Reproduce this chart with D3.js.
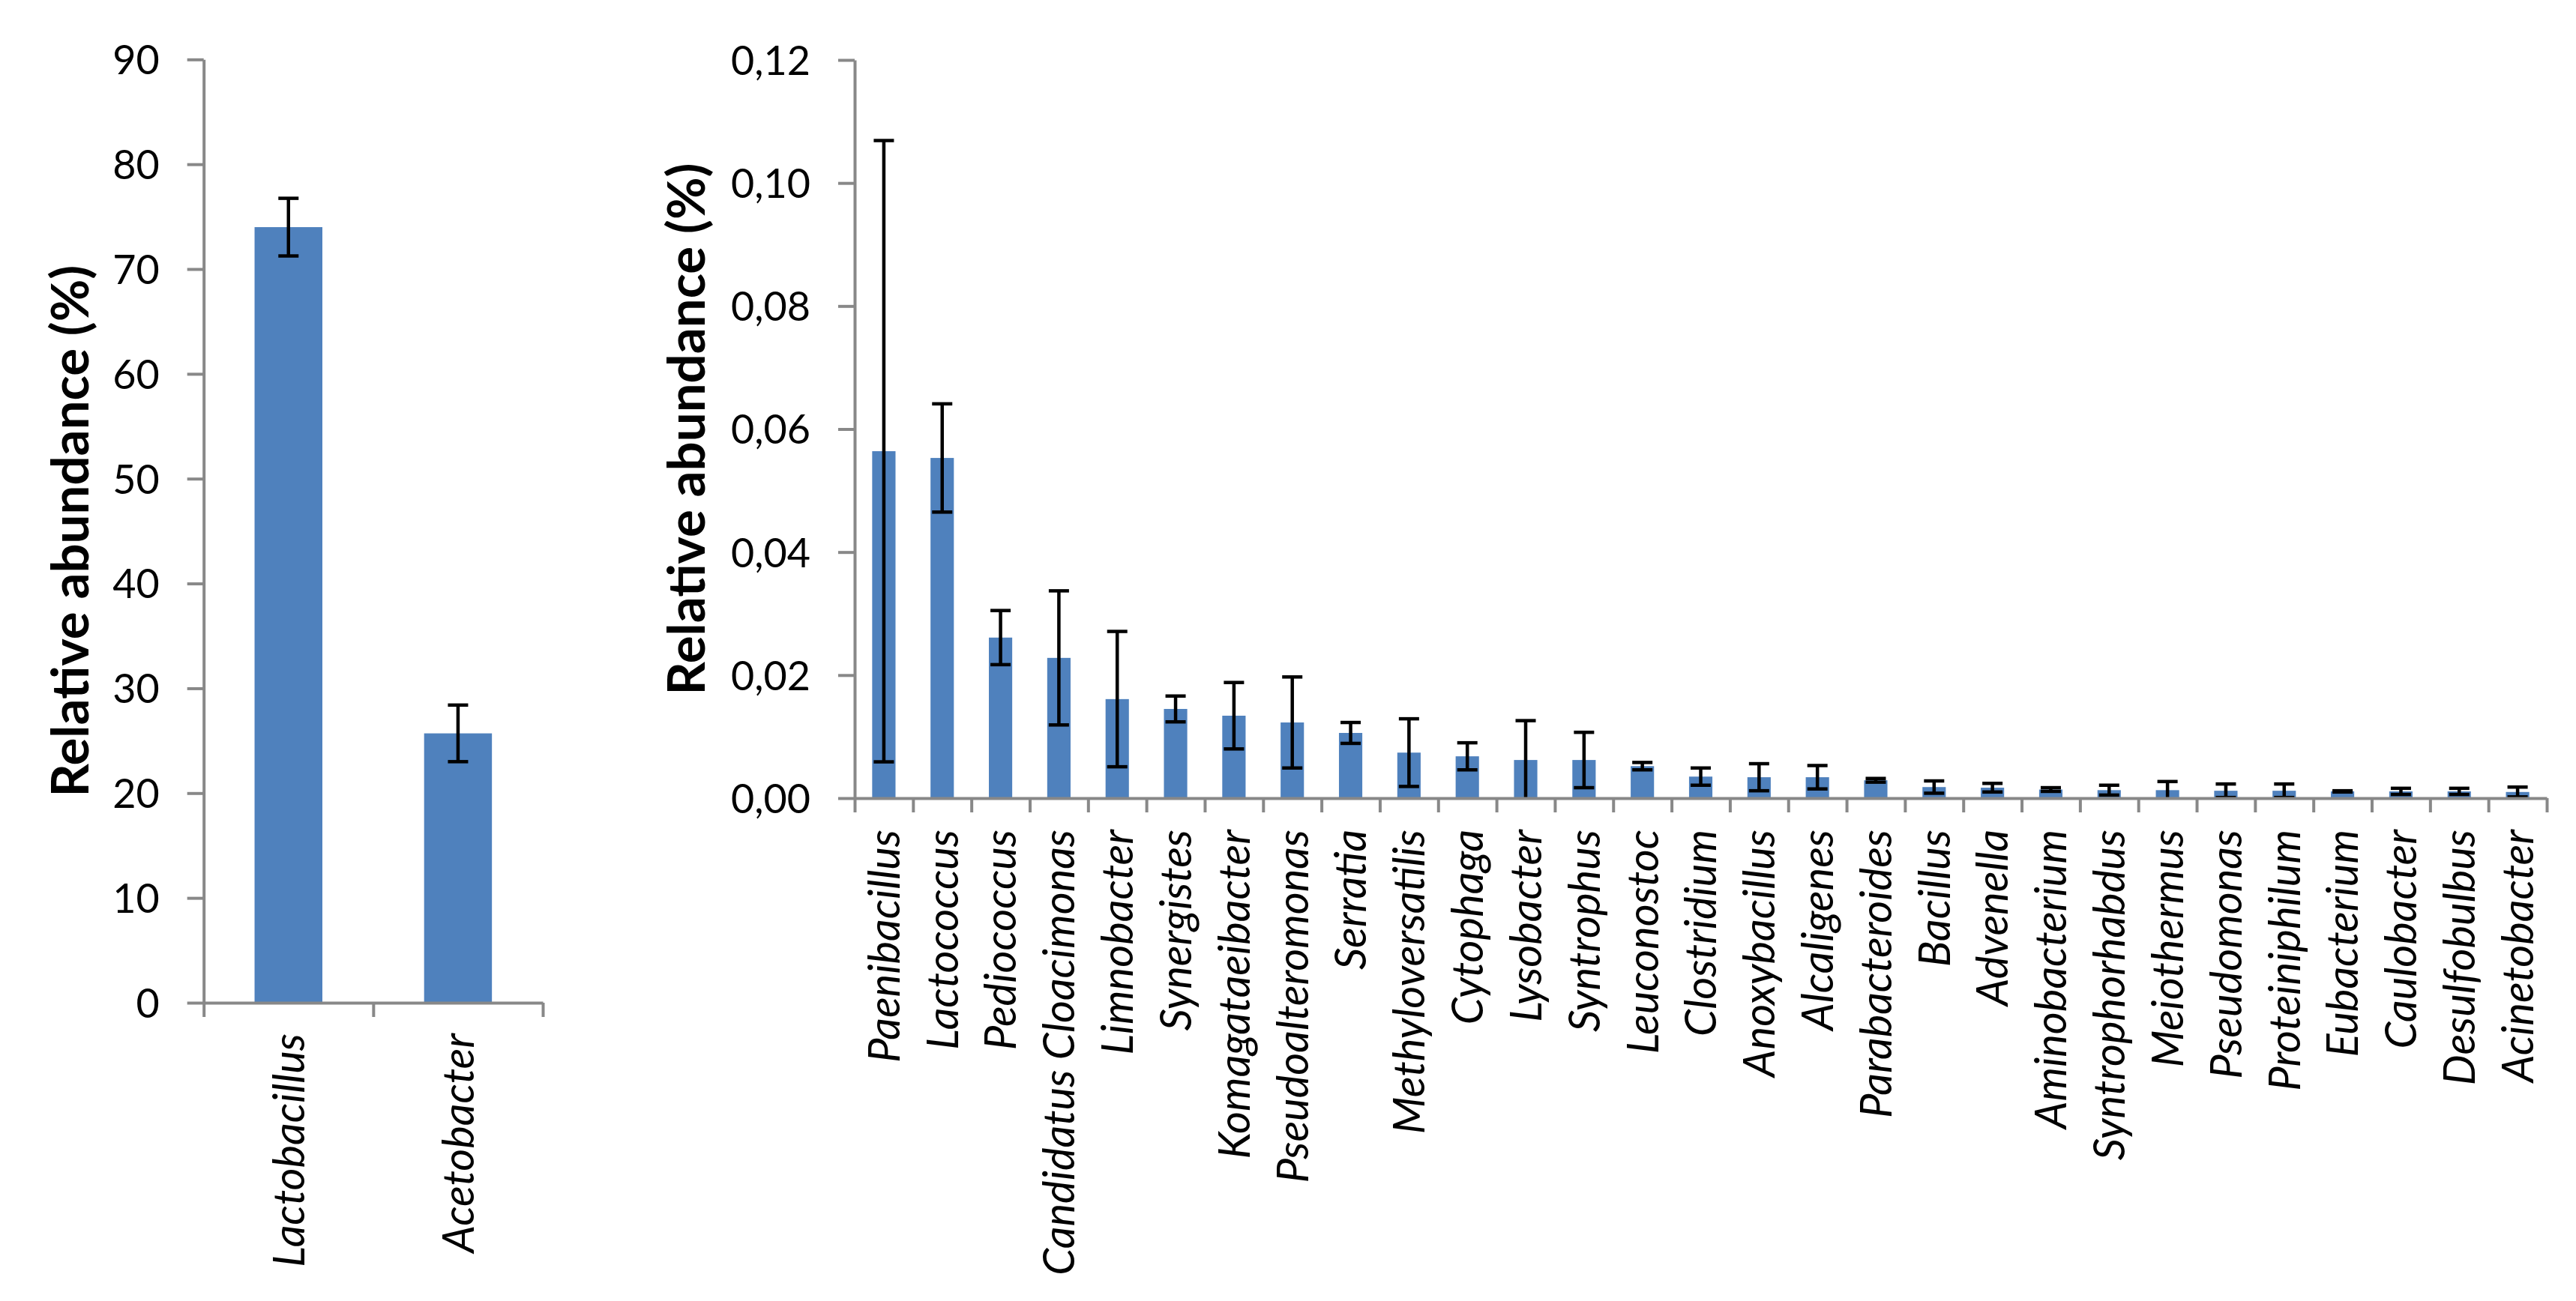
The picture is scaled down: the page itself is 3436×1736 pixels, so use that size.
<!DOCTYPE html>
<html>
<head>
<meta charset="utf-8">
<script src="https://cdn.jsdelivr.net/npm/d3@7"></script>
<style>
  html, body { margin: 0; padding: 0; background: #ffffff; }
  svg { display: block; }
</style>
</head>
<body>
<svg id="chart" width="3436" height="1736"></svg>
<script>
// ---------------- DATA ----------------
const leftCategories = ["Lactobacillus", "Acetobacter"];
const leftValues = [74.0, 25.7];
const leftErrors = [2.75, 2.7];
const leftTicks = [0, 10, 20, 30, 40, 50, 60, 70, 80, 90];

const rightCategories = [
  "Paenibacillus", "Lactococcus", "Pediococcus", "Candidatus Cloacimonas",
  "Limnobacter", "Synergistes", "Komagataeibacter", "Pseudoalteromonas",
  "Serratia", "Methyloversatilis", "Cytophaga", "Lysobacter", "Syntrophus",
  "Leuconostoc", "Clostridium", "Anoxybacillus", "Alcaligenes",
  "Parabacteroides", "Bacillus", "Advenella", "Aminobacterium",
  "Syntrophorhabdus", "Meiothermus", "Pseudomonas", "Proteiniphilum",
  "Eubacterium", "Caulobacter", "Desulfobulbus", "Acinetobacter"
];
const rightValues = [
  0.0564, 0.0553, 0.0261, 0.0228,
  0.0161, 0.0145, 0.0134, 0.0123,
  0.0106, 0.0074, 0.0068, 0.0062, 0.0062,
  0.0052, 0.0035, 0.0034, 0.0034,
  0.0029, 0.0018, 0.0017, 0.0014,
  0.0013, 0.0013, 0.0012, 0.0012,
  0.0011, 0.0011, 0.0011, 0.0010
];
const rightErrors = [
  0.0505, 0.0088, 0.0044, 0.0109,
  0.0110, 0.0021, 0.0054, 0.0074,
  0.0017, 0.0055, 0.0022, 0.0064, 0.0045,
  0.0006, 0.0014, 0.0022, 0.0019,
  0.0003, 0.0010, 0.0007, 0.0003,
  0.0008, 0.0014, 0.0011, 0.0011,
  0.0001, 0.0005, 0.0005, 0.0008
];
const rightTicks = [0, 0.02, 0.04, 0.06, 0.08, 0.10, 0.12];

const yTitle = "Relative abundance (%)";

// ---------------- STYLE ----------------
const FONT = "Lato, 'Open Sans', 'DejaVu Sans', sans-serif";
const BAR = "#4F81BD";
const AXIS = "#888888";

const svg = d3.select("#chart");
svg.append("rect").attr("width", 3436).attr("height", 1736).attr("fill", "#fff");

function fitSize(text, weight, style, target) {
  const t = svg.append("text")
    .attr("font-family", FONT).attr("font-size", 100)
    .attr("font-weight", weight).attr("font-style", style)
    .text(text);
  const w = t.node().getComputedTextLength();
  t.remove();
  return 100 * target / w;
}
const labelSize = fitSize("Paenibacillus", "normal", "italic", 311);
const tickSize = fitSize("0,10", "normal", "normal", 106);
const titleSize = fitSize(yTitle, "bold", "normal", 710);

const commaLocale = d3.formatLocale({ decimal: ",", thousands: ".", grouping: [3], currency: ["", ""] });

function panel(cfg) {
  const n = cfg.categories.length;
  const x = d3.scaleBand()
    .domain(cfg.categories)
    .range([cfg.x0, cfg.x1])
    .paddingInner(0.6)
    .paddingOuter(0.3);
  const xb = d3.scaleLinear().domain([0, n]).range([cfg.x0, cfg.x1]);
  const y = d3.scaleLinear().domain([0, cfg.max]).range([cfg.yBottom, cfg.yTop]);

  const g = svg.append("g");

  // bars
  g.append("g").selectAll("rect")
    .data(cfg.categories)
    .join("rect")
    .attr("x", d => x(d))
    .attr("width", x.bandwidth())
    .attr("y", (d, i) => y(cfg.values[i]))
    .attr("height", (d, i) => y(0) - y(cfg.values[i]))
    .attr("fill", BAR);

  // error bars
  const capW = 27;
  const eg = g.append("g").attr("stroke", "#000").attr("stroke-width", 4.5).attr("fill", "none");
  cfg.categories.forEach((c, i) => {
    const cx = x(c) + x.bandwidth() / 2;
    const v = cfg.values[i], e = cfg.errors[i];
    const hi = v + e, lo = Math.max(v - e, 0);
    eg.append("line").attr("x1", cx).attr("x2", cx).attr("y1", y(hi)).attr("y2", y(lo));
    eg.append("line").attr("x1", cx - capW / 2).attr("x2", cx + capW / 2).attr("y1", y(hi)).attr("y2", y(hi));
    if (v - e > 0) {
      eg.append("line").attr("x1", cx - capW / 2).attr("x2", cx + capW / 2).attr("y1", y(lo)).attr("y2", y(lo));
    }
  });

  // y axis
  const yAxis = d3.axisLeft(y)
    .tickValues(cfg.ticks)
    .tickSizeInner(22)
    .tickSizeOuter(0)
    .tickPadding(37)
    .tickFormat(cfg.format);
  const ya = g.append("g").attr("transform", `translate(${cfg.x0},0)`).call(yAxis);
  ya.select(".domain").attr("stroke", AXIS).attr("stroke-width", 4);
  ya.selectAll(".tick line").attr("stroke", AXIS).attr("stroke-width", 4);
  ya.selectAll(".tick text")
    .attr("font-family", FONT).attr("font-size", tickSize).attr("fill", "#000")
    .attr("dy", "0.36em");

  // x axis (ticks at category boundaries)
  const xAxis = d3.axisBottom(xb)
    .tickValues(d3.range(n + 1))
    .tickSizeInner(19)
    .tickSizeOuter(0)
    .tickFormat("");
  const xa = g.append("g").attr("transform", `translate(0,${cfg.yBottom})`).call(xAxis);
  xa.select(".domain").attr("stroke", AXIS).attr("stroke-width", 4);
  xa.selectAll(".tick line").attr("stroke", AXIS).attr("stroke-width", 4);

  // category labels
  g.append("g").selectAll("text")
    .data(cfg.categories)
    .join("text")
    .attr("transform", d => `translate(${x(d) + x.bandwidth() / 2},${cfg.yBottom + cfg.labelGap}) rotate(-90)`)
    .attr("text-anchor", "end")
    .attr("dy", "0.36em")
    .attr("font-family", FONT)
    .attr("font-style", "italic")
    .attr("font-size", labelSize)
    .attr("fill", "#000")
    .text(d => d);

  // y title
  g.append("text")
    .attr("transform", `translate(${cfg.titleX},${(cfg.yTop + cfg.yBottom) / 2}) rotate(-90)`)
    .attr("text-anchor", "middle")
    .attr("font-family", FONT)
    .attr("font-weight", "bold")
    .attr("font-size", titleSize)
    .attr("fill", "#000")
    .text(yTitle);
}

panel({
  categories: leftCategories, values: leftValues, errors: leftErrors, ticks: leftTicks,
  max: 90, format: d3.format("d"),
  x0: 271.7, x1: 724, yTop: 79.3, yBottom: 1338, labelGap: 41, titleX: 118
});

panel({
  categories: rightCategories, values: rightValues, errors: rightErrors, ticks: rightTicks,
  max: 0.12, format: commaLocale.format(".2f"),
  x0: 1140, x1: 3397, yTop: 80, yBottom: 1065, labelGap: 42, titleX: 940
});
</script>
</body>
</html>
